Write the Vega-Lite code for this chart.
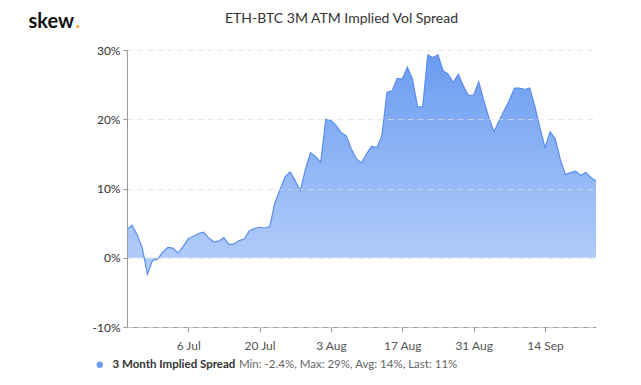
{
  "$schema": "https://vega.github.io/schema/vega-lite/v6.json",
  "width": 469,
  "height": 277,
  "autosize": {"type": "none"},
  "padding": {"left": 127, "top": 50, "right": 45, "bottom": 58},
  "background": "white",
  "config": {
    "font": "Lato",
    "view": {"stroke": null}
  },
  "title": {
    "text": "ETH-BTC 3M ATM Implied Vol Spread",
    "anchor": "middle",
    "dx": -20,
    "offset": -26,
    "baseline": "alphabetic",
    "fontSize": 14,
    "fontWeight": "normal",
    "color": "#333333",
    "font": "Lato"
  },
  "data": {
    "values": [
      {"date": "2020-06-24T00:00:00", "v": 4.1, "series": "3 Month Implied Spread"},
      {"date": "2020-06-25T00:00:00", "v": 4.7, "series": "3 Month Implied Spread"},
      {"date": "2020-06-26T00:00:00", "v": 3.3, "series": "3 Month Implied Spread"},
      {"date": "2020-06-27T00:00:00", "v": 1.4, "series": "3 Month Implied Spread"},
      {"date": "2020-06-28T00:00:00", "v": -2.4, "series": "3 Month Implied Spread"},
      {"date": "2020-06-29T00:00:00", "v": -0.4, "series": "3 Month Implied Spread"},
      {"date": "2020-06-30T00:00:00", "v": -0.2, "series": "3 Month Implied Spread"},
      {"date": "2020-07-01T00:00:00", "v": 0.8, "series": "3 Month Implied Spread"},
      {"date": "2020-07-02T00:00:00", "v": 1.5, "series": "3 Month Implied Spread"},
      {"date": "2020-07-03T00:00:00", "v": 1.4, "series": "3 Month Implied Spread"},
      {"date": "2020-07-04T00:00:00", "v": 0.7, "series": "3 Month Implied Spread"},
      {"date": "2020-07-05T00:00:00", "v": 1.6, "series": "3 Month Implied Spread"},
      {"date": "2020-07-06T00:00:00", "v": 2.7, "series": "3 Month Implied Spread"},
      {"date": "2020-07-07T00:00:00", "v": 3.1, "series": "3 Month Implied Spread"},
      {"date": "2020-07-08T00:00:00", "v": 3.5, "series": "3 Month Implied Spread"},
      {"date": "2020-07-09T00:00:00", "v": 3.7, "series": "3 Month Implied Spread"},
      {"date": "2020-07-10T00:00:00", "v": 2.9, "series": "3 Month Implied Spread"},
      {"date": "2020-07-11T00:00:00", "v": 2.3, "series": "3 Month Implied Spread"},
      {"date": "2020-07-12T00:00:00", "v": 2.4, "series": "3 Month Implied Spread"},
      {"date": "2020-07-13T00:00:00", "v": 2.9, "series": "3 Month Implied Spread"},
      {"date": "2020-07-14T00:00:00", "v": 1.9, "series": "3 Month Implied Spread"},
      {"date": "2020-07-15T00:00:00", "v": 2.0, "series": "3 Month Implied Spread"},
      {"date": "2020-07-16T00:00:00", "v": 2.5, "series": "3 Month Implied Spread"},
      {"date": "2020-07-17T00:00:00", "v": 2.7, "series": "3 Month Implied Spread"},
      {"date": "2020-07-18T00:00:00", "v": 3.9, "series": "3 Month Implied Spread"},
      {"date": "2020-07-19T00:00:00", "v": 4.2, "series": "3 Month Implied Spread"},
      {"date": "2020-07-20T00:00:00", "v": 4.4, "series": "3 Month Implied Spread"},
      {"date": "2020-07-21T00:00:00", "v": 4.3, "series": "3 Month Implied Spread"},
      {"date": "2020-07-22T00:00:00", "v": 4.5, "series": "3 Month Implied Spread"},
      {"date": "2020-07-23T00:00:00", "v": 7.9, "series": "3 Month Implied Spread"},
      {"date": "2020-07-24T00:00:00", "v": 9.8, "series": "3 Month Implied Spread"},
      {"date": "2020-07-25T00:00:00", "v": 11.7, "series": "3 Month Implied Spread"},
      {"date": "2020-07-26T00:00:00", "v": 12.4, "series": "3 Month Implied Spread"},
      {"date": "2020-07-27T00:00:00", "v": 11.1, "series": "3 Month Implied Spread"},
      {"date": "2020-07-28T00:00:00", "v": 9.7, "series": "3 Month Implied Spread"},
      {"date": "2020-07-29T00:00:00", "v": 12.8, "series": "3 Month Implied Spread"},
      {"date": "2020-07-30T00:00:00", "v": 15.2, "series": "3 Month Implied Spread"},
      {"date": "2020-07-31T00:00:00", "v": 14.6, "series": "3 Month Implied Spread"},
      {"date": "2020-08-01T00:00:00", "v": 13.8, "series": "3 Month Implied Spread"},
      {"date": "2020-08-02T00:00:00", "v": 20.0, "series": "3 Month Implied Spread"},
      {"date": "2020-08-03T00:00:00", "v": 19.8, "series": "3 Month Implied Spread"},
      {"date": "2020-08-04T00:00:00", "v": 19.1, "series": "3 Month Implied Spread"},
      {"date": "2020-08-05T00:00:00", "v": 18.1, "series": "3 Month Implied Spread"},
      {"date": "2020-08-06T00:00:00", "v": 17.6, "series": "3 Month Implied Spread"},
      {"date": "2020-08-07T00:00:00", "v": 15.7, "series": "3 Month Implied Spread"},
      {"date": "2020-08-08T00:00:00", "v": 14.3, "series": "3 Month Implied Spread"},
      {"date": "2020-08-09T00:00:00", "v": 13.7, "series": "3 Month Implied Spread"},
      {"date": "2020-08-10T00:00:00", "v": 15.0, "series": "3 Month Implied Spread"},
      {"date": "2020-08-11T00:00:00", "v": 16.1, "series": "3 Month Implied Spread"},
      {"date": "2020-08-12T00:00:00", "v": 15.9, "series": "3 Month Implied Spread"},
      {"date": "2020-08-13T00:00:00", "v": 17.6, "series": "3 Month Implied Spread"},
      {"date": "2020-08-14T00:00:00", "v": 23.9, "series": "3 Month Implied Spread"},
      {"date": "2020-08-15T00:00:00", "v": 24.1, "series": "3 Month Implied Spread"},
      {"date": "2020-08-16T00:00:00", "v": 25.9, "series": "3 Month Implied Spread"},
      {"date": "2020-08-17T00:00:00", "v": 25.8, "series": "3 Month Implied Spread"},
      {"date": "2020-08-18T00:00:00", "v": 27.5, "series": "3 Month Implied Spread"},
      {"date": "2020-08-19T00:00:00", "v": 25.8, "series": "3 Month Implied Spread"},
      {"date": "2020-08-20T00:00:00", "v": 21.8, "series": "3 Month Implied Spread"},
      {"date": "2020-08-21T00:00:00", "v": 21.8, "series": "3 Month Implied Spread"},
      {"date": "2020-08-22T00:00:00", "v": 29.3, "series": "3 Month Implied Spread"},
      {"date": "2020-08-23T00:00:00", "v": 28.9, "series": "3 Month Implied Spread"},
      {"date": "2020-08-24T00:00:00", "v": 29.3, "series": "3 Month Implied Spread"},
      {"date": "2020-08-25T00:00:00", "v": 27.0, "series": "3 Month Implied Spread"},
      {"date": "2020-08-26T00:00:00", "v": 26.5, "series": "3 Month Implied Spread"},
      {"date": "2020-08-27T00:00:00", "v": 25.3, "series": "3 Month Implied Spread"},
      {"date": "2020-08-28T00:00:00", "v": 26.5, "series": "3 Month Implied Spread"},
      {"date": "2020-08-29T00:00:00", "v": 24.8, "series": "3 Month Implied Spread"},
      {"date": "2020-08-30T00:00:00", "v": 23.4, "series": "3 Month Implied Spread"},
      {"date": "2020-08-31T00:00:00", "v": 23.5, "series": "3 Month Implied Spread"},
      {"date": "2020-09-01T00:00:00", "v": 25.4, "series": "3 Month Implied Spread"},
      {"date": "2020-09-02T00:00:00", "v": 22.7, "series": "3 Month Implied Spread"},
      {"date": "2020-09-03T00:00:00", "v": 20.2, "series": "3 Month Implied Spread"},
      {"date": "2020-09-04T00:00:00", "v": 18.2, "series": "3 Month Implied Spread"},
      {"date": "2020-09-05T00:00:00", "v": 19.8, "series": "3 Month Implied Spread"},
      {"date": "2020-09-06T00:00:00", "v": 21.3, "series": "3 Month Implied Spread"},
      {"date": "2020-09-07T00:00:00", "v": 22.7, "series": "3 Month Implied Spread"},
      {"date": "2020-09-08T00:00:00", "v": 24.5, "series": "3 Month Implied Spread"},
      {"date": "2020-09-09T00:00:00", "v": 24.5, "series": "3 Month Implied Spread"},
      {"date": "2020-09-10T00:00:00", "v": 24.3, "series": "3 Month Implied Spread"},
      {"date": "2020-09-11T00:00:00", "v": 24.5, "series": "3 Month Implied Spread"},
      {"date": "2020-09-12T00:00:00", "v": 21.9, "series": "3 Month Implied Spread"},
      {"date": "2020-09-13T00:00:00", "v": 18.8, "series": "3 Month Implied Spread"},
      {"date": "2020-09-14T00:00:00", "v": 15.9, "series": "3 Month Implied Spread"},
      {"date": "2020-09-15T00:00:00", "v": 18.2, "series": "3 Month Implied Spread"},
      {"date": "2020-09-16T00:00:00", "v": 17.2, "series": "3 Month Implied Spread"},
      {"date": "2020-09-17T00:00:00", "v": 14.2, "series": "3 Month Implied Spread"},
      {"date": "2020-09-18T00:00:00", "v": 12.0, "series": "3 Month Implied Spread"},
      {"date": "2020-09-19T00:00:00", "v": 12.3, "series": "3 Month Implied Spread"},
      {"date": "2020-09-20T00:00:00", "v": 12.5, "series": "3 Month Implied Spread"},
      {"date": "2020-09-21T00:00:00", "v": 11.9, "series": "3 Month Implied Spread"},
      {"date": "2020-09-22T00:00:00", "v": 12.3, "series": "3 Month Implied Spread"},
      {"date": "2020-09-23T00:00:00", "v": 11.6, "series": "3 Month Implied Spread"},
      {"date": "2020-09-24T00:00:00", "v": 11.1, "series": "3 Month Implied Spread"}
    ]
  },
  "encoding": {
    "x": {
      "field": "date",
      "type": "temporal",
      "scale": {
        "domain": [
          {"year": 2020, "month": 6, "date": 24},
          {"year": 2020, "month": 9, "date": 24}
        ],
        "nice": false
      },
      "axis": {
        "title": ".",
        "titleColor": "#f2ae3d",
        "titleFont": "Lato",
        "titleFontSize": 20,
        "titleFontWeight": "bold",
        "titleAngle": 0,
        "titleAlign": "left",
        "titleBaseline": "alphabetic",
        "titleX": -52,
        "titleY": -300,
        "values": [
          {"year": 2020, "month": 7, "date": 6},
          {"year": 2020, "month": 7, "date": 20},
          {"year": 2020, "month": 8, "date": 3},
          {"year": 2020, "month": 8, "date": 17},
          {"year": 2020, "month": 8, "date": 31},
          {"year": 2020, "month": 9, "date": 14}
        ],
        "format": "%-d %b",
        "labelFont": "Lato",
        "labelFontSize": 12,
        "labelColor": "#555555",
        "labelPadding": 8,
        "tickSize": 5,
        "tickColor": "#999999",
        "domainColor": "#999999",
        "grid": false
      }
    },
    "y": {
      "field": "v",
      "type": "quantitative",
      "scale": {"domain": [-10, 30], "nice": false, "zero": false},
      "axis": {
        "title": "skew",
        "titleColor": "#111111",
        "titleFont": "Lato",
        "titleFontSize": 20,
        "titleFontWeight": "bold",
        "titleAngle": 0,
        "titleAlign": "left",
        "titleBaseline": "alphabetic",
        "titleX": -99,
        "titleY": -23,
        "values": [-10, 0, 10, 20, 30],
        "labelExpr": "datum.value + '%'",
        "labelFont": "Lato",
        "labelFontSize": 12,
        "labelColor": "#333333",
        "labelPadding": 3,
        "tickSize": 4,
        "tickColor": "#999999",
        "domainColor": "#999999",
        "grid": true,
        "gridColor": "#dddddd",
        "gridOpacity": 0.7,
        "gridDash": [6, 4],
        "zindex": 1
      }
    }
  },
  "layer": [
    {
      "mark": {
        "type": "area",
        "line": false,
        "fill": {
          "x1": 0, "y1": 0, "x2": 0, "y2": 1,
          "gradient": "linear",
          "stops": [
            {"offset": 0, "color": "#6b9cf1"},
            {"offset": 1, "color": "#b6cffa"}
          ]
        },
        "fillOpacity": 1
      }
    },
    {
      "mark": {"type": "line", "strokeWidth": 1.2},
      "encoding": {
        "color": {
          "field": "series",
          "type": "nominal",
          "scale": {"range": ["#5b8def"]},
          "legend": {
            "orient": "none",
            "legendX": -33,
            "legendY": 309,
            "direction": "horizontal",
            "title": "Min: -2.4%, Max: 29%, Avg: 14%, Last: 11%",
            "titleOrient": "right",
            "titleLimit": 400,
            "titleFont": "Lato",
            "titleFontSize": 11.5,
            "titleFontWeight": "normal",
            "titleColor": "#666666",
            "titlePadding": 4,
            "titleBaseline": "middle",
            "labelFont": "Lato",
            "labelFontSize": 11.5,
            "labelFontWeight": "bold",
            "labelColor": "#333333",
            "labelOffset": 7,
            "symbolType": "circle",
            "symbolSize": 40,
            "symbolFillColor": "#6a9cf0",
            "symbolStrokeWidth": 0
          }
        }
      }
    }
  ]
}
